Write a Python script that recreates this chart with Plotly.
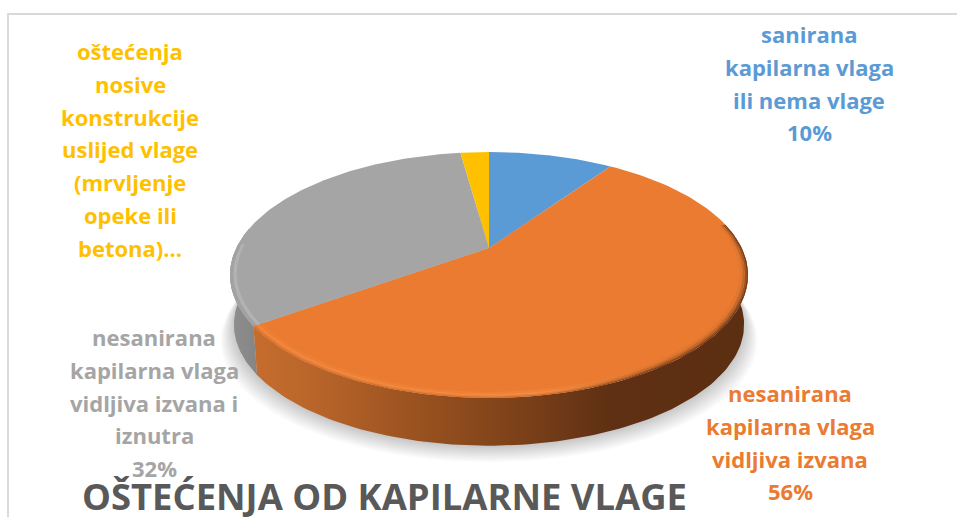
import numpy as np
import plotly.graph_objects as go

categories = ["sanirana kapilarna vlaga ili nema vlage",
              "nesanirana kapilarna vlaga vidljiva izvana",
              "nesanirana kapilarna vlaga vidljiva izvana i iznutra",
              "oštećenja nosive konstrukcije uslijed vlage (mrvljenje opeke ili betona)"]
values = [9.6, 55.5, 32.7, 2.2]
colors = ["#5b9bd5", "#ea7b30", "#a5a5a5", "#ffc000"]
label_lines = [
    ["sanirana", "kapilarna vlaga", "ili nema vlage", "10%"],
    ["nesanirana", "kapilarna vlaga", "vidljiva izvana", "56%"],
    ["nesanirana", "kapilarna vlaga", "vidljiva izvana i", "iznutra", "32%"],
    ["oštećenja", "nosive", "konstrukcije", "uslijed vlage", "(mrvljenje", "opeke ili", "betona)..."],
]
label_x = [809, 790, 154, 130]
label_y0 = [34, 393, 337, 51]
title_text = "OŠTEĆENJA OD KAPILARNE VLAGE"

CX, CY, RX, RY, P = 489.0, 248.0, 252.7, 117.0, 0.2195
DEPTH = 50.0
FONT = "Open Sans"
LINE = 32.8


def proj(t_deg, r=1.0, drop=False):
    t = np.radians(t_deg)
    u, v = r * np.sin(t), r * np.cos(t)
    w = 1 + P * v
    x, y = RX * u / w, -RY * v / w
    if drop:
        return CX + 0.985 * x, CY + 0.985 * y + DEPTH
    return CX + x, CY + y


def arc(a, b, r=1.0, drop=False, n=120):
    return proj(np.linspace(a, b, n), r, drop)


def close(x, y):
    return list(x) + [x[0]], list(y) + [y[0]]


def ring(a, b, r1, r2):
    x1, y1 = arc(a, b, r1)
    x2, y2 = arc(b, a, r2)
    return close(np.r_[x1, x2], np.r_[y1, y2])


def scale(stops):
    return dict(type="horizontal", colorscale=stops)


fig = go.Figure()
base = dict(mode="lines", line=dict(width=0), hoverinfo="skip", showlegend=False)

# soft ground shadow
for i in range(14):
    k = 1.0 + i * 0.004
    t = np.linspace(0, 360, 200)
    x, y = proj(t, 1.0, True)
    fig.add_trace(go.Scatter(x=CX + (x - CX) * k, y=y + 1 + i * 1.2, fill="toself",
                             fillcolor="rgba(0,0,0,0.014)", **base))

cum = np.cumsum([0] + values) / sum(values) * 360
starts, ends = cum[:-1], cum[1:]

# visible walls
gx, gy = arc(ends[1], 280)
gbx, gby = arc(280, ends[1], drop=True)
x, y = close(np.r_[gx, gbx], np.r_[gy, gby])
fig.add_trace(go.Scatter(x=x, y=y, fill="toself",
                         fillgradient=scale([[0, "#8f8f8f"], [1, "#858585"]]), **base))
ox, oy = arc(85, ends[1])
obx, oby = arc(ends[1], 85, drop=True)
x, y = close(np.r_[ox, obx], np.r_[oy, oby])
fig.add_trace(go.Scatter(x=x, y=y, fill="toself",
                         fillgradient=scale([[0, "#c56d2e"], [0.12, "#b9652a"], [0.35, "#97501f"],
                                             [0.55, "#7a4019"], [0.72, "#5f3013"], [1, "#5c2e12"]]), **base))

# top face
for a, b, c in zip(starts, ends, colors):
    ax, ay = arc(a, b)
    x, y = close(np.r_[CX, ax], np.r_[CY, ay])
    fig.add_trace(go.Scatter(x=x, y=y, fill="toself", fillcolor=c, **base))

# bevel on the rim
a0, a1 = 78, ends[1]
bands = [
    (0.968, 0.980, [[0, "#ec7f34"], [0.6, "#ee8238"], [0.85, "#e27830"], [1, "#e27830"]]),
    (0.980, 0.989, [[0, "#f08840"], [0.6, "#f28c44"], [0.8, "#c86a28"], [1, "#c2672a"]]),
    (0.989, 0.995, [[0, "#ea7e36"], [0.6, "#ea823c"], [0.8, "#a05522"], [1, "#985222"]]),
    (0.995, 1.000, [[0, "#d9722c"], [0.6, "#cf6f2c"], [0.8, "#73391a"], [1, "#73391a"]]),
]
for r1, r2, st in bands:
    x, y = ring(a0, a1, r1, r2)
    fig.add_trace(go.Scatter(x=x, y=y, fill="toself", fillgradient=scale(st), **base))
for r1, r2, c in [(0.975, 0.988, "#b2b2b2"), (0.988, 1.0, "#a2a2a2")]:
    x, y = ring(ends[1], 272, r1, r2)
    fig.add_trace(go.Scatter(x=x, y=y, fill="toself", fillcolor=c, **base))

annotations = []
for lines, lx, ly, c in zip(label_lines, label_x, label_y0, colors):
    for i, s in enumerate(lines):
        annotations.append(dict(x=lx, y=ly + i * LINE, text=s, showarrow=False, xref="x", yref="y",
                                xanchor="center", yanchor="middle",
                                font=dict(family=FONT, size=22, color=c, weight=700)))
annotations.append(dict(x=384, y=496, text=title_text, showarrow=False, xref="x", yref="y",
                        xanchor="center", yanchor="middle",
                        font=dict(family=FONT, size=36.4, color="#595959", weight=700)))

fig.update_layout(
    width=957, height=517, margin=dict(l=0, r=0, t=0, b=0), autosize=False,
    paper_bgcolor="white", plot_bgcolor="white", showlegend=False,
    xaxis=dict(range=[0, 957], visible=False, fixedrange=True),
    yaxis=dict(range=[517, 0], visible=False, fixedrange=True),
    annotations=annotations,
    shapes=[dict(type="rect", xref="x", yref="y", x0=8, y0=14, x1=975, y1=540,
                 line=dict(color="#d9d9d9", width=2), fillcolor="rgba(0,0,0,0)", layer="below")],
)
fig.write_html("out.html", config=dict(displayModeBar=False),
               post_script="document.body.style.margin='0';document.body.style.overflow='hidden';")
